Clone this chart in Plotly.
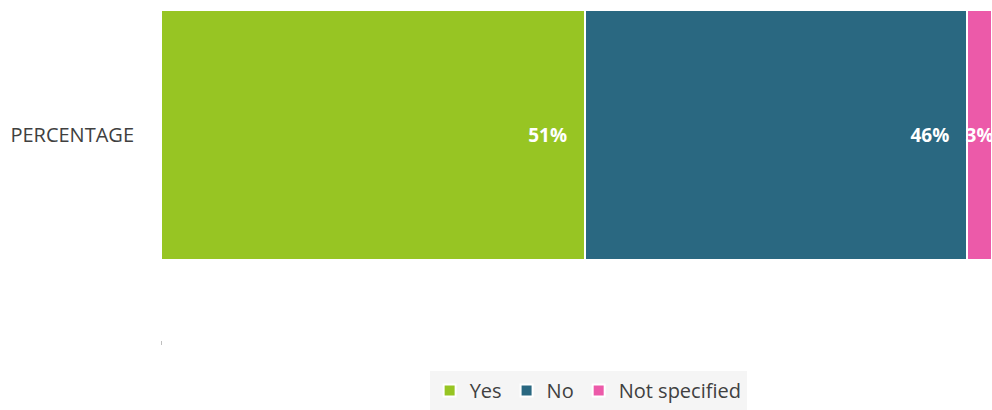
import plotly.graph_objects as go

# Survey answer shares (percent) for a single stacked bar
categories = ["PERCENTAGE"]
series_names = ["Yes", "No", "Not specified"]
yes_values = [51]
no_values = [46]
not_specified_values = [3]

colors = {"Yes": "#97C523", "No": "#2A6881", "Not specified": "#EC5AA9"}
pad = "\u00a0" * 3

fig = go.Figure()
for name, vals, anchor, suffix in [
    ("Yes", yes_values, "end", pad),
    ("No", no_values, "end", pad),
    ("Not specified", not_specified_values, "middle", ""),
]:
    fig.add_trace(go.Bar(
        name=name,
        y=[0] * len(vals),
        x=vals,
        orientation="h",
        width=1,
        marker=dict(color=colors[name], line=dict(color="white", width=2)),
        text=[f"{v}%{suffix}" for v in vals],
        textposition="inside",
        insidetextanchor=anchor,
        textangle=0,
        constraintext="none",
        textfont=dict(family="Open Sans", size=19, color="white", weight="bold"),
        hoverinfo="skip",
    ))

fig.update_layout(
    barmode="stack",
    width=992,
    height=410,
    margin=dict(l=161, r=0, t=10, b=69),
    paper_bgcolor="white",
    plot_bgcolor="white",
    font=dict(family="Open Sans", color="#404040"),
    showlegend=True,
    legend=dict(
        orientation="h",
        x=0.514,
        xanchor="center",
        y=-0.095,
        yanchor="top",
        bgcolor="#F5F5F5",
        font=dict(family="Open Sans", size=20, color="#404040"),
        traceorder="normal",
        itemwidth=30,
    ),
    xaxis=dict(
        range=[0, 100],
        showgrid=False,
        zeroline=False,
        showticklabels=False,
        ticks="outside",
        tickvals=[0],
        ticklen=4,
        tickcolor="#BFBFBF",
        showline=False,
        fixedrange=True,
    ),
    yaxis=dict(
        range=[-0.8187, 0.5],
        tickvals=[0],
        ticktext=categories,
        showgrid=False,
        zeroline=False,
        showline=False,
        ticks="",
        ticklabelstandoff=26,
        tickfont=dict(family="Open Sans", size=20, color="#404040"),
        fixedrange=True,
    ),
)

fig.write_html("out.html")
